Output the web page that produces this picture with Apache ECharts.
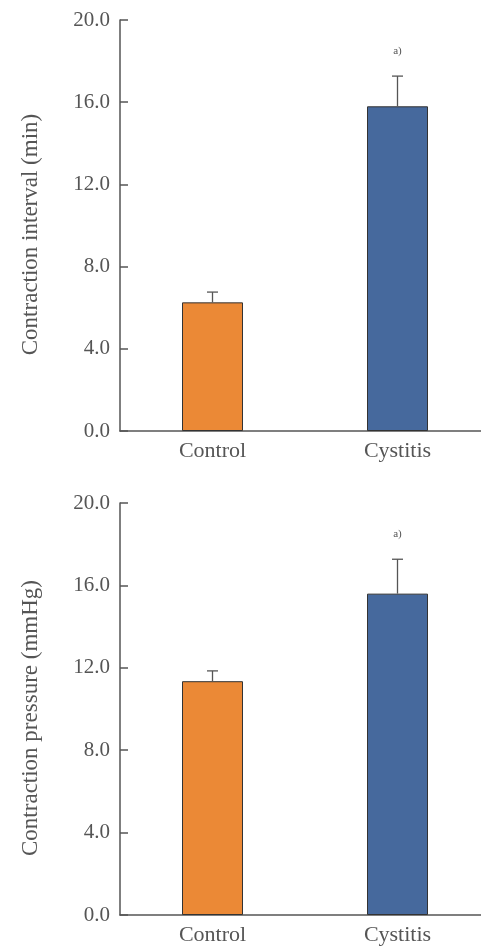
<!DOCTYPE html>
<html><head><meta charset="utf-8">
<script src="https://cdn.jsdelivr.net/npm/echarts@6/dist/echarts.min.js"></script>
<style>html,body{margin:0;padding:0;background:#fff;overflow:hidden}#c{width:490px;height:947px}</style>
</head><body><div id="c"></div>
<script>
var categories = ['Control', 'Cystitis'];
var intervalMean = [6.26, 15.8];
var intervalErr = [0.5, 1.47];
var pressureMean = [11.35, 15.6];
var pressureErr = [0.5, 1.67];
var yTicks = [0, 4, 8, 12, 16, 20];
var sigMark = ['', 'a)'];
var colors = ['#EB8936', '#46699D'];

var font = 'Liberation Serif';
var gray = '#555';

function yAxis(idx, name) {
  return {
    type: 'value', gridIndex: idx, min: yTicks[0], max: yTicks[yTicks.length - 1], interval: yTicks[1] - yTicks[0],
    name: name, nameLocation: 'middle', nameGap: 78,
    nameTextStyle: {fontFamily: font, fontSize: 23, color: gray, padding: [0, 18, 0, 0]},
    axisLine: {show: true, lineStyle: {color: gray, width: 1.5}},
    axisTick: {show: true, inside: true, length: 8, lineStyle: {color: gray, width: 1.5}},
    axisLabel: {fontFamily: font, fontSize: 21, color: gray, margin: 10,
      formatter: function (v) { return v.toFixed(1); }},
    splitLine: {show: false}
  };
}
function xAxis(idx) {
  return {
    type: 'category', gridIndex: idx, data: categories,
    axisLine: {show: true, lineStyle: {color: gray, width: 1.5}},
    axisTick: {show: false},
    axisLabel: {fontFamily: font, fontSize: 22, color: gray, margin: 9}
  };
}
function bars(idx, vals) {
  return {
    type: 'bar', xAxisIndex: idx, yAxisIndex: idx, barWidth: 61,
    data: vals.map(function (v, i) {
      return {value: v, itemStyle: {color: colors[i], borderColor: '#333', borderWidth: 1}};
    }),
    z: 2
  };
}
function errs(idx, vals, err) {
  return {
    type: 'custom', xAxisIndex: idx, yAxisIndex: idx, z: 3,
    data: vals.map(function (v, i) { return [i, v, v + err[i]]; }),
    renderItem: function (params, api) {
      var base = api.coord([api.value(0), api.value(1)]);
      var top = api.coord([api.value(0), api.value(2)]);
      var mark = sigMark[params.dataIndex];
      var children = [
        {type: 'line', shape: {x1: base[0], y1: base[1], x2: top[0], y2: top[1]}, style: {stroke: gray, lineWidth: 1.3}},
        {type: 'line', shape: {x1: top[0] - 5.5, y1: top[1], x2: top[0] + 5.5, y2: top[1]}, style: {stroke: gray, lineWidth: 1.3}}
      ];
      if (mark) {
        children.push({type: 'text', x: top[0], y: top[1] - 25,
          style: {text: mark, fontFamily: font, fontSize: 11, fill: gray, align: 'center', verticalAlign: 'middle'}});
      }
      return {type: 'group', children: children};
    }
  };
}

var chart = echarts.init(document.getElementById('c'));
chart.setOption({
  animation: false,
  grid: [
    {left: 120, right: 0, top: 20, height: 411},
    {left: 120, right: 0, top: 503, height: 412}
  ],
  xAxis: [xAxis(0), xAxis(1)],
  yAxis: [yAxis(0, 'Contraction interval (min)'), yAxis(1, 'Contraction pressure (mmHg)')],
  series: [bars(0, intervalMean), errs(0, intervalMean, intervalErr), bars(1, pressureMean), errs(1, pressureMean, pressureErr)]
});
</script></body></html>
